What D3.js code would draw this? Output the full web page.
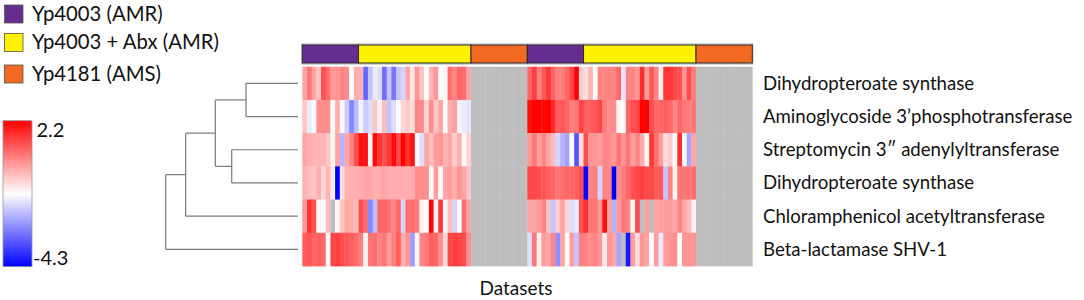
<!DOCTYPE html>
<html>
<head>
<meta charset="utf-8">
<script src="https://cdn.jsdelivr.net/npm/d3@7"></script>
<style>
  body { margin: 0; background: #fff; }
  text { font-family: Lato, "Open Sans", sans-serif; fill: #111; }
</style>
</head>
<body>
<svg id="chart"></svg>
<script>
// groups of datasets (legend + top colour bar)
const groupNames = ["Yp4003 (AMR)", "Yp4003 + Abx (AMR)", "Yp4181 (AMS)"];
const groupColors = ["#662d91", "#fff200", "#f26a21"];
const groupSizes = [12, 24, 12]; // columns per group in each block

const genes = [
  "Dihydropteroate synthase",
  "Aminoglycoside 3\u2019phosphotransferase",
  "Streptomycin 3\u2033 adenylyltransferase",
  "Dihydropteroate synthase",
  "Chloramphenicol acetyltransferase",
  "Beta-lactamase SHV-1",
];

const colorTicks = [2.2, -4.3];

// values per gene, first block (AMR columns only, AMS has no data)
const block1 = [
  [0.1, 0.7, 0.1, -0.3, 1.2, 0.8, 0.3, 0.3, 0.5, 0.4, -1.1, 0.0, -0.1, -3.0, -1.8, -1.3, -1.5, -2.9, -1.8, -2.8, -1.8, -1.6, 0.1, -0.7, 0.3, -0.3, -1.1, -0.1, 0.3, -1.1, -0.9, 0.8, 0.5, 0.9, 0.8, 0.1],
  [-0.3, -1.3, -1.1, 0.4, 0.4, 0.4, -1.1, 0.0, -1.1, -1.7, -2.6, -1.9, -1.2, -1.7, -1.5, -0.3, -0.9, -0.2, -1.8, -1.5, -1.1, -0.5, -0.4, -0.6, 0.5, 0.4, -0.5, 0.4, -0.3, 0.1, -1.1, 0.0, 0.2, -1.2, -1.3, -1.4],
  [0.1, 0.0, -0.1, -0.1, -0.1, -0.3, -0.9, 0.1, -2.0, 0.1, 0.5, 1.2, 2.0, 2.0, -0.9, 2.1, 1.5, 1.2, 1.5, 2.1, 1.3, 2.2, 1.6, 2.0, -1.1, -1.5, 0.1, -0.2, 0.2, 0.3, -0.1, 0.1, -0.4, 0.0, -1.0, -0.5],
  [-0.1, -0.2, -0.3, 0.0, -0.5, -0.1, -0.8, -4.3, -0.6, -0.1, 0.0, 0.0, 0.0, 0.1, 0.1, 0.0, 0.0, 0.1, 0.0, 0.0, 0.0, 0.0, 0.0, 0.0, 0.4, 0.4, 0.4, -1.1, 0.2, -1.1, 0.1, 0.2, 0.0, 0.3, 0.1, -0.3],
  [0.3, 1.5, 1.2, -1.1, -1.1, -0.2, null, -0.9, -0.3, 0.1, 0.0, -0.2, 1.2, 0.8, -2.6, -1.9, 0.9, 0.9, 0.8, 0.5, 0.9, -1.6, 0.8, 0.8, 0.6, -0.9, -1.1, 2.2, -0.9, 1.5, -1.1, -0.2, -1.6, -1.1, 0.8, 0.1],
  [1.0, 1.1, 0.9, 1.0, 0.9, -1.1, 1.3, 1.4, 1.2, 1.1, 1.0, 0.8, 0.6, -0.9, 0.7, 0.8, 0.5, 0.7, 0.2, 0.6, 1.0, 0.0, 0.3, -2.3, -0.9, 0.5, 0.7, 1.0, 0.9, 0.4, -0.6, 1.3, 1.4, 1.3, 1.2, 0.4],
];

// values per gene, second block
const block2 = [
  [0.9, 1.4, 0.6, 1.1, 1.5, 0.9, 0.6, 0.6, 0.9, 1.3, 2.2, -0.4, -0.6, -0.1, -1.0, 0.5, 0.5, 0.5, 0.5, 0.9, -1.4, 0.5, 0.5, 0.3, 1.6, 0.2, 1.1, 0.5, -0.8, 1.5, 1.5, 1.3, 1.2, 0.3, 1.2, 0.6],
  [2.0, 2.2, 2.2, 2.1, 2.2, 1.7, 1.0, 1.1, 0.9, 0.6, 0.7, 1.3, 1.0, 1.0, 1.1, 1.3, 0.6, 0.4, 0.4, -0.9, -1.0, 0.9, 1.2, 1.3, 2.2, 2.2, 1.2, 0.9, 0.9, 1.0, 0.9, 0.5, 0.9, 0.7, 0.6, 0.7],
  [0.3, 0.7, 0.2, 0.5, 0.1, -0.2, -1.6, -2.0, -2.2, -1.1, -3.2, -0.6, 1.2, 0.3, 0.3, 0.2, 0.5, 0.4, 0.3, 0.7, 0.3, 0.7, 0.2, 0.5, 0.0, -0.9, 1.5, 0.8, 0.2, -0.6, -0.4, -1.0, 1.6, -1.1, -2.2, 0.1],
  [1.3, 1.3, 1.2, 1.1, 1.0, 0.9, 0.7, 0.8, 0.9, 0.9, 1.0, 1.2, -4.2, 0.5, 0.6, -1.6, 0.5, 0.5, -4.3, 0.4, 0.6, 0.9, 1.2, 1.3, 1.4, 1.3, 1.3, 1.0, 1.1, -1.8, 0.5, -0.9, 0.7, 0.7, 0.7, 0.8],
  [0.1, 0.1, 0.2, 0.5, -0.3, -1.8, -0.4, 0.1, -0.5, -1.5, -1.3, 1.2, 1.6, 0.7, 0.7, 0.3, 2.0, 0.1, -2.0, 0.2, 0.7, 0.5, -0.9, 1.2, null, 0.2, null, 0.1, 0.2, 0.2, 0.2, 0.1, 0.5, 0.1, -0.2, -0.9],
  [-1.5, 0.7, -0.9, 0.2, 0.1, 0.5, -2.5, 0.1, -1.0, 0.2, -1.8, 0.6, 0.5, 0.4, 0.5, 0.3, -0.8, 0.3, 0.1, -2.2, null, -4.0, 0.2, -0.6, 0.3, 0.1, -1.0, 0.2, -1.3, 0.2, 0.3, 0.4, -1.0, 0.3, 0.3, 0.3],
];

// dendrogram merge heights (0 = leaf, 1 = root)
const dendro = { h: 1, children: [
  { h: 0.849, children: [
    { h: 0.625, children: [
      { h: 0.393, children: [{ leaf: 0 }, { leaf: 1 }] },
      { h: 0.501, children: [{ leaf: 2 }, { leaf: 3 }] },
    ] },
    { leaf: 4 },
  ] },
  { leaf: 5 },
] };

// ---- layout ----
const W = 1084, H = 300;
const svg = d3.select("#chart").attr("width", W).attr("height", H);

const missing = Array(groupSizes[2]).fill(null);
const rows = genes.map((g, i) => [...block1[i], ...missing, ...block2[i], ...missing]);
const colGroup = [];
[0, 1].forEach(() => groupSizes.forEach((n, gi) => { for (let k = 0; k < n; k++) colGroup.push(gi); }));

const x = d3.scaleBand().domain(d3.range(colGroup.length)).range([302.3, 752.3]);
const y = d3.scaleBand().domain(d3.range(genes.length)).range([66.7, 266]);

const color = d3.scaleLinear()
  .domain([-4.3, -1.05, 2.2])
  .range(["#0000ff", "#ffffff", "#ff0000"]);

// heatmap cells
const cells = [];
rows.forEach((r, i) => r.forEach((v, j) => cells.push({ i, j, v })));
svg.append("g").selectAll("rect")
  .data(cells)
  .join("rect")
  .attr("x", d => x(d.j))
  .attr("y", d => y(d.i))
  .attr("width", x.bandwidth() + 0.4)
  .attr("height", y.bandwidth() + 0.4)
  .attr("fill", d => d.v == null ? "#bebebe" : color(d.v));

// top group bar, one rect per run of columns
const runs = [];
colGroup.forEach((g, j) => {
  const last = runs[runs.length - 1];
  if (last && last.g === g) last.end = j;
  else runs.push({ g, start: j, end: j });
});
svg.append("rect")
  .attr("x", x(0) - 0.5).attr("y", 44)
  .attr("width", x.range()[1] - x(0) + 1).attr("height", 20)
  .attr("fill", "none").attr("stroke", "#aaa");
svg.append("g").selectAll("rect")
  .data(runs)
  .join("rect")
  .attr("x", d => x(d.start))
  .attr("y", 45)
  .attr("width", d => x(d.end) + x.bandwidth() - x(d.start))
  .attr("height", 18)
  .attr("fill", d => groupColors[d.g])
  .attr("stroke", "#2a2a2a")
  .attr("stroke-width", 1);

// dendrogram
const root = d3.hierarchy(dendro);
const hx = d3.scaleLinear().domain([0, 1]).range([298, 165.7]);
root.eachAfter(n => {
  n.yy = n.children ? (n.children[0].yy + n.children[n.children.length - 1].yy) / 2
                    : y(n.data.leaf) + y.bandwidth() / 2;
  n.hh = n.children ? n.data.h : 0;
});
const dg = svg.append("g").attr("stroke", "#7a7a7a").attr("stroke-width", 1.2).attr("fill", "none");
root.descendants().filter(n => n.children).forEach(n => {
  dg.append("line")
    .attr("x1", hx(n.hh)).attr("x2", hx(n.hh))
    .attr("y1", n.children[0].yy).attr("y2", n.children[1].yy);
  n.children.forEach(c => {
    dg.append("line")
      .attr("x1", hx(n.hh)).attr("x2", hx(c.hh))
      .attr("y1", c.yy).attr("y2", c.yy);
  });
});

// row labels
svg.append("g").selectAll("text")
  .data(genes)
  .join("text")
  .attr("x", 763)
  .attr("y", (d, i) => y(i) + y.bandwidth() / 2 + 6.5)
  .attr("font-size", 18.6)
  .text(d => d);

// legend
const lg = svg.append("g");
const legendY = [5, 33.5, 65];
groupNames.forEach((name, i) => {
  lg.append("rect")
    .attr("x", 4.5).attr("y", legendY[i])
    .attr("width", 18.5).attr("height", 18)
    .attr("fill", groupColors[i])
    .attr("stroke", "#555").attr("stroke-width", 0.8);
  lg.append("text")
    .attr("x", 32).attr("y", legendY[i] + 15.5)
    .attr("font-size", 20.3)
    .text(name);
});

// colour bar
const cbTop = 120.7, cbBottom = 266.7;
const grad = svg.append("defs").append("linearGradient")
  .attr("id", "cb").attr("x1", 0).attr("x2", 0).attr("y1", 0).attr("y2", 1);
const cbScale = d3.scaleLinear().domain([2.2, -4.3]).range([0, 1]);
color.domain().slice().reverse().forEach(v => {
  grad.append("stop").attr("offset", cbScale(v)).attr("stop-color", color(v));
});
svg.append("rect")
  .attr("x", 3).attr("y", cbTop)
  .attr("width", 29).attr("height", cbBottom - cbTop)
  .attr("fill", "url(#cb)")
  .attr("stroke", "#999").attr("stroke-width", 0.8);
const cbY = d3.scaleLinear().domain([2.2, -4.3]).range([cbTop + 16.5, cbBottom - 1.5]);
svg.append("g").selectAll("text")
  .data(colorTicks)
  .join("text")
  .attr("x", d => d < 0 ? 33 : 36.5)
  .attr("y", d => cbY(d))
  .attr("font-size", 20)
  .text(d => d);

// x title
svg.append("text")
  .attr("x", 516).attr("y", 295)
  .attr("text-anchor", "middle")
  .attr("font-size", 19)
  .text("Datasets");
</script>
</body>
</html>
